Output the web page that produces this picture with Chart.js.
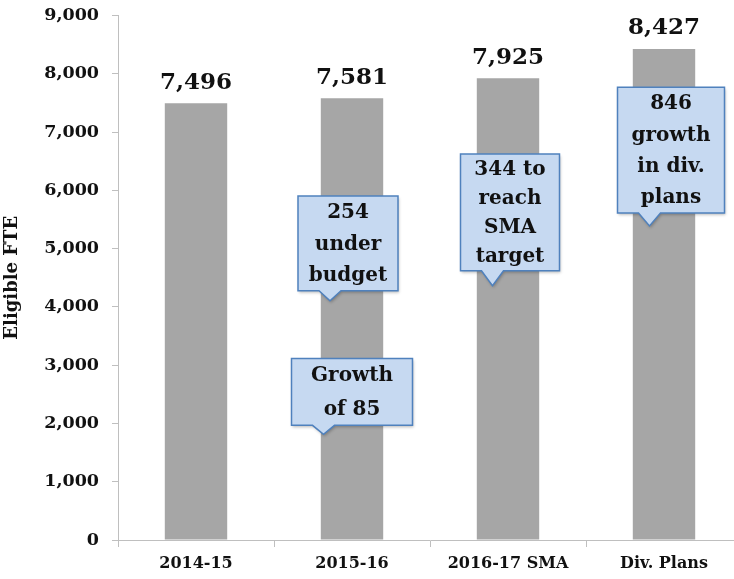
<!DOCTYPE html>
<html>
<head>
<meta charset="utf-8">
<script src="https://cdn.jsdelivr.net/npm/chart.js@4"></script>
<style>
  html, body { margin: 0; padding: 0; background: #ffffff; overflow: hidden; }
  #wrap { width: 742px; height: 587px; margin-top: -8px; }
</style>
</head>
<body>
<div id="wrap"><canvas id="fteChart" width="742" height="587"></canvas></div>
<script>
// categories and values
const categories = ['2014-15', '2015-16', '2016-17 SMA', 'Div. Plans'];
const eligibleFte = [7496, 7581, 7925, 8427];
const yTicks = [0, 1000, 2000, 3000, 4000, 5000, 6000, 7000, 8000, 9000];

// callouts: category index, box top / bottom / pointer tip in data units
const calloutCat = [1, 1, 2, 3];
const calloutTop = [5903, 3114, 6622, 7768];
const calloutBottom = [4278, 1968, 4620, 5612];
const calloutTip = [4106, 1814, 4363, 5390];
const calloutText = [
  ['254', 'under', 'budget'],
  ['Growth', 'of 85'],
  ['344 to', 'reach', 'SMA', 'target'],
  ['846', 'growth', 'in div.', 'plans']
];
// box look
const calloutWidth = [100, 121, 99, 107];
const calloutShift = [-4, 0, 2, 7];

const serif = '"DejaVu Serif", serif';

const valueLabels = {
  id: 'valueLabels',
  afterDatasetsDraw(chart) {
    const ctx = chart.ctx;
    const meta = chart.getDatasetMeta(0);
    ctx.save();
    ctx.font = 'bold 23px ' + serif;
    ctx.fillStyle = '#111';
    ctx.textAlign = 'center';
    ctx.textBaseline = 'bottom';
    meta.data.forEach((bar, i) => {
      ctx.fillText(eligibleFte[i].toLocaleString('en-US'), bar.x, bar.y - 9);
    });
    ctx.restore();
  }
};

const callouts = {
  id: 'callouts',
  afterDatasetsDraw(chart) {
    const ctx = chart.ctx;
    const xs = chart.scales.x, ys = chart.scales.y;
    ctx.save();
    calloutText.forEach((lines, i) => {
      const cx = xs.getPixelForValue(calloutCat[i]) + calloutShift[i];
      const top = ys.getPixelForValue(calloutTop[i]);
      const bottom = ys.getPixelForValue(calloutBottom[i]);
      const tipY = ys.getPixelForValue(calloutTip[i]);
      const w = calloutWidth[i];
      const left = cx - w / 2;
      const tipX = left + 32;
      ctx.beginPath();
      ctx.moveTo(left, top);
      ctx.lineTo(left + w, top);
      ctx.lineTo(left + w, bottom);
      ctx.lineTo(tipX + 11, bottom);
      ctx.lineTo(tipX, tipY);
      ctx.lineTo(tipX - 11, bottom);
      ctx.lineTo(left, bottom);
      ctx.closePath();
      ctx.shadowColor = 'rgba(0,0,0,0.25)';
      ctx.shadowBlur = 3;
      ctx.shadowOffsetX = 1;
      ctx.shadowOffsetY = 2;
      ctx.fillStyle = '#c6d9f1';
      ctx.fill();
      ctx.shadowColor = 'transparent';
      ctx.lineWidth = 1.5;
      ctx.strokeStyle = '#4f81bd';
      ctx.stroke();
      ctx.font = 'bold 20px ' + serif;
      ctx.fillStyle = '#111';
      ctx.textAlign = 'center';
      ctx.textBaseline = 'middle';
      const lh = (bottom - top) / lines.length;
      lines.forEach((l, k) => {
        ctx.fillText(l, cx, top + lh * (k + 0.5) + 1);
      });
    });
    ctx.restore();
  }
};

new Chart(document.getElementById('fteChart').getContext('2d'), {
  type: 'bar',
  data: {
    labels: categories,
    datasets: [{
      data: eligibleFte,
      backgroundColor: '#a6a6a6',
      categoryPercentage: 1,
      barPercentage: 0.4
    }]
  },
  options: {
    responsive: false,
    animation: false,
    layout: { padding: { top: 6, left: 0, right: 0, bottom: 0 } },
    plugins: { legend: { display: false }, tooltip: { enabled: false } },
    scales: {
      x: {
        grid: { offset: true, drawOnChartArea: false, tickLength: 7, color: '#bfbfbf' },
        border: { color: '#bfbfbf' },
        ticks: { color: '#111', font: { family: serif, weight: 'bold', size: 16 }, padding: 7 },
        afterFit(scale) { scale.height = 39; }
      },
      y: {
        min: 0,
        max: 9000,
        afterBuildTicks(scale) { scale.ticks = yTicks.map(v => ({ value: v })); },
        grid: { drawOnChartArea: false, tickLength: 6, color: '#bfbfbf' },
        border: { color: '#bfbfbf' },
        ticks: {
          color: '#111',
          font: { family: serif, weight: 'bold', size: 17.5 },
          padding: 13,
          callback: v => v.toLocaleString('en-US')
        },
        title: {
          display: true,
          text: 'Eligible FTE',
          color: '#111',
          font: { family: serif, weight: 'bold', size: 18 },
          padding: { top: 2, bottom: 0 }
        },
        afterFit(scale) { scale.width = 118; }
      }
    }
  },
  plugins: [valueLabels, callouts]
});
</script>
</body>
</html>
